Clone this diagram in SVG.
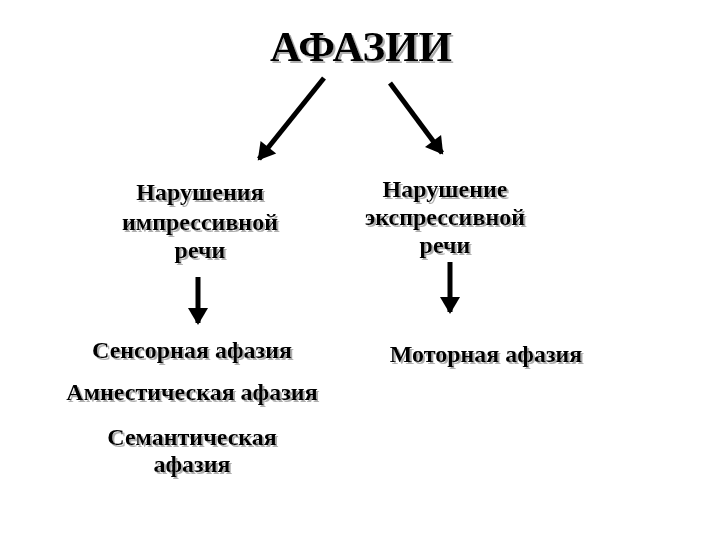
<svg xmlns="http://www.w3.org/2000/svg" width="720" height="540" viewBox="0 0 720 540">
<style>
text{font-family:"Liberation Serif","Times New Roman",serif;font-weight:bold;fill:#000;text-anchor:middle;filter:url(#sh)}
.t{font-size:43px}
.n{font-size:24px}
.c line{stroke:#000;stroke-width:5;marker-end:url(#ah)}
</style>
<defs>
<filter id="sh" x="-10%" y="-30%" width="130%" height="170%">
<feDropShadow dx="2" dy="2" stdDeviation="0.6" flood-color="#999" flood-opacity="0.8"/>
</filter>
<marker id="ah" markerUnits="userSpaceOnUse" markerWidth="20" markerHeight="22" viewBox="0 0 17 22" refX="15" refY="11" orient="auto">
<path d="M0,1 L17,11 L0,21 Z" fill="#000"/>
</marker>
</defs>
<g id="title"><text class="t" x="361" y="61">АФАЗИИ</text></g>
<g class="c" id="connectors">
<line x1="324" y1="78" x2="259" y2="159"/>
<line x1="390" y1="83" x2="442" y2="153"/>
<line x1="198" y1="277" x2="198" y2="323"/>
<line x1="450" y1="262" x2="450" y2="312"/>
</g>
<g id="impressive"><text class="n" x="200" y="200">Нарушения</text><text class="n" x="200" y="230">импрессивной</text><text class="n" x="200" y="258">речи</text></g>
<g id="expressive"><text class="n" x="445" y="197">Нарушение</text><text class="n" x="445" y="225">экспрессивной</text><text class="n" x="445" y="253">речи</text></g>
<g id="sensory"><text class="n" x="192" y="358">Сенсорная афазия</text></g>
<g id="amnestic"><text class="n" x="192" y="400">Амнестическая афазия</text></g>
<g id="semantic"><text class="n" x="192" y="445">Семантическая</text><text class="n" x="192" y="472">афазия</text></g>
<g id="motor"><text class="n" x="486" y="362">Моторная афазия</text></g>
</svg>
